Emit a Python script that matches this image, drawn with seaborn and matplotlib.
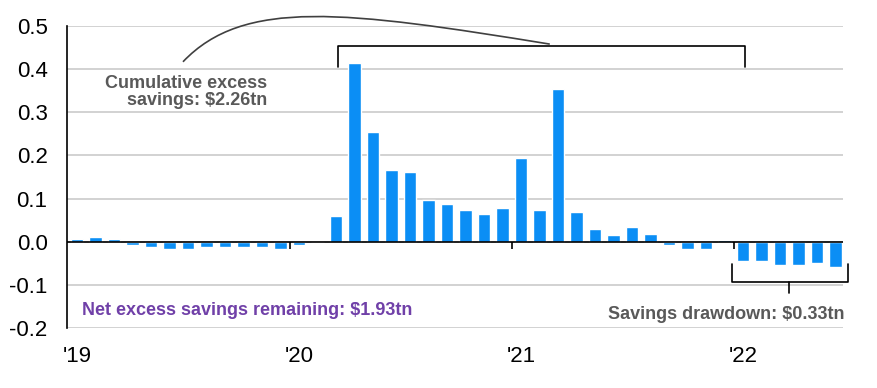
import numpy as np
import pandas as pd
import matplotlib
matplotlib.use('Agg')
import matplotlib.pyplot as plt
import seaborn as sns
from matplotlib.path import Path
from matplotlib.patches import PathPatch
from matplotlib.ticker import FormatStrFormatter

# Данные: месячные избыточные сбережения, трлн $
months = pd.period_range('2019-01', '2022-06', freq='M').strftime('%Y-%m').tolist()
excess = [0.006, 0.012, 0.006, -0.008, -0.012, -0.018, -0.018, -0.012, -0.012, -0.012, -0.012, -0.018,
          -0.008, 0.0, 0.060, 0.414, 0.254, 0.166, 0.161, 0.097, 0.088, 0.074, 0.065, 0.079,
          0.194, 0.074, 0.354, 0.069, 0.029, 0.015, 0.033, 0.019, -0.008, -0.017, -0.017, 0.005,
          -0.044, -0.044, -0.054, -0.054, -0.049, -0.059]
year_labels = ["'19", "'20", "'21", "'22"]
year_pos = [0, 12, 24, 36]
year_breaks = [11.5, 23.5, 35.5]

df = pd.DataFrame({'month': months, 'excess': excess})

sns.set_style('white')
plt.rcParams['font.family'] = ['Liberation Sans', 'DejaVu Sans']
plt.rcParams['axes.unicode_minus'] = False

fig, ax = plt.subplots(figsize=(8.77, 3.88), dpi=100)
fig.subplots_adjust(left=0.0764, right=0.9612, top=0.933, bottom=0.1546)

sns.barplot(data=df, x='month', y='excess', color='#0b8ef5', saturation=1, width=0.68, ax=ax)

# Оси и сетка
ax.set_ylim(-0.2, 0.5)
ax.set_xlim(-0.55, 41.4)
ax.set_yticks(np.arange(-0.2, 0.51, 0.1))
ax.yaxis.set_major_formatter(FormatStrFormatter('%.1f'))
ax.set_xticks(year_pos, year_labels)
ax.tick_params(axis='y', length=0, pad=14, labelsize=16, labelcolor='black')
ax.tick_params(axis='x', length=0, pad=13, labelsize=16, labelcolor='black')
ax.set_xlabel('')
ax.set_ylabel('')
ax.grid(axis='y', color='#cfcfcf', lw=1.3)
ax.set_axisbelow(True)
for s in ['top', 'right', 'bottom']:
    ax.spines[s].set_visible(False)
ax.spines['left'].set_color('black')
ax.spines['left'].set_linewidth(1.2)
ax.axhline(0, color='black', lw=1.2, zorder=3)
ax.vlines(year_breaks, -0.016, 0, color='black', lw=1.2, zorder=3)

# Скобка сверху и кривая к подписи
ax.plot([14.1, 14.1, 36.1, 36.1], [0.405, 0.454, 0.454, 0.405], color='black', lw=1.2, clip_on=False)
curve = Path([(5.72, 0.417), (9.0, 0.565), (14.5, 0.535), (25.55, 0.458)],
             [Path.MOVETO, Path.CURVE4, Path.CURVE4, Path.CURVE4])
ax.add_patch(PathPatch(curve, facecolor='none', edgecolor='#404040', lw=1.2, clip_on=False))
ax.text(10.26, 0.347, 'Cumulative excess\nsavings: $2.26tn', ha='right', va='center',
        multialignment='right', linespacing=1.0, fontsize=13, fontweight='bold', color='#595959')

# Скобка снизу
ax.plot([35.4, 35.4, 41.65, 41.65], [-0.051, -0.093, -0.093, -0.051], color='black', lw=1.2, clip_on=False)
ax.plot([38.5, 38.5], [-0.093, -0.118], color='black', lw=1.2, clip_on=False)
ax.text(41.5, -0.169, 'Savings drawdown: $0.33tn', ha='right', va='center',
        fontsize=13, fontweight='bold', color='#595959')
ax.text(0.26, -0.159, 'Net excess savings remaining: $1.93tn', ha='left', va='center',
        fontsize=13, fontweight='bold', color='#7040a8')

plt.savefig('out.png', dpi=100)
